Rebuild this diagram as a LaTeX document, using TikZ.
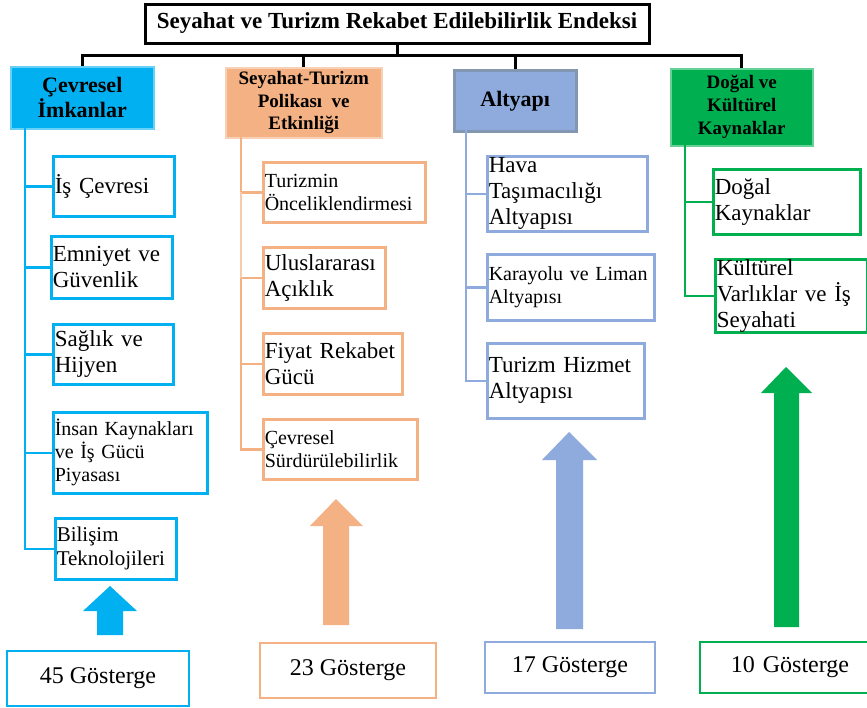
\documentclass[tikz,border=0pt]{standalone}
\usepackage{fontspec}
\setmainfont{Liberation Serif}
\definecolor{ccyan}{HTML}{00B0F0}
\definecolor{corange}{HTML}{F4B183}
\definecolor{corangelight}{HTML}{F8CBAD}
\definecolor{cblue}{HTML}{8FAADC}
\definecolor{cblueedge}{HTML}{8497B0}
\definecolor{cgreen}{HTML}{00B050}
\tikzset{
  leaf/.style={draw, line width=2.5pt, fill=white, anchor=north west, align=left,
    inner xsep=1.5pt, inner ysep=0pt, font=\fontsize{23}{26}\selectfont},
  smallleaf/.style={leaf, font=\fontsize{20}{23}\selectfont},
  header/.style={anchor=north west, align=center, inner sep=0pt, line width=1.5pt},
  count/.style={draw, line width=2.5pt, fill=white, inner sep=0pt, font=\fontsize{24}{28}\selectfont},
  tree/.style={line width=2.5pt},
}
\begin{document}
\begin{tikzpicture}[x=1pt,y=-1pt]
\fill[white] (0,0) rectangle (867,707);
\useasboundingbox (0,0) rectangle (867,707);

% title
\node[draw=black, line width=3pt, minimum width=504pt, minimum height=39pt, inner sep=0pt,
  font=\fontsize{23}{26}\selectfont\bfseries] (title) at (397,23.5)
  {Seyahat ve Turizm Rekabet Edilebilirlik Endeksi};

% headers
\node[header, fill=ccyan, draw=ccyan!60!white, minimum width=143pt, minimum height=62pt,
  font=\fontsize{22}{25}\selectfont\bfseries] (h1) at (10,66) {Çevresel\\İmkanlar};
\node[header, fill=corange, draw=corange!60!white, minimum width=156pt, minimum height=70pt,
  font=\fontsize{19}{22.5}\selectfont\bfseries] (h2) at (225,67) {Seyahat-Turizm\\Polikası\ \ ve\\Etkinliği};
\node[header, fill=cblue, draw=cblueedge, line width=2.5pt, minimum width=122pt, minimum height=61pt,
  font=\fontsize{22}{25}\selectfont\bfseries] (h3) at (453,69) {Altyapı};
\node[header, fill=cgreen, draw=cgreen!60!white, minimum width=142pt, minimum height=77pt,
  font=\fontsize{19}{23}\selectfont\bfseries] (h4) at (670,68) {Doğal ve\\Kültürel\\Kaynaklar};

% top tree
\coordinate (hub) at (397,55);
\draw[tree, line width=3pt] (title.south) -- (hub);
\draw[tree, line width=3pt] (h1.north) -- (h1.north |- hub) -- (h4.north |- hub) -- (h4.north);
\draw[tree, line width=3pt] (h2.north |- hub) -- (h2.north);
\draw[tree, line width=3pt] (h3.north |- hub) -- (h3.north);

% column 1
\node[leaf, draw=ccyan, minimum width=121pt, text width=118pt, minimum height=60pt] (a1) at (52,155) {İş Çevresi};
\node[leaf, draw=ccyan, minimum width=121pt, text width=118pt, minimum height=62pt] (a2) at (50,235) {Emniyet ve\\Güvenlik};
\node[leaf, draw=ccyan, minimum width=120pt, text width=117pt, minimum height=60pt] (a3) at (52,323) {Sağlık ve\\Hijyen};
\node[smallleaf, draw=ccyan, minimum width=154pt, text width=151pt, minimum height=81pt] (a4) at (52,411) {İnsan Kaynakları\\ve İş Gücü\\Piyasası};
\node[leaf, draw=ccyan, minimum width=121pt, text width=118pt, minimum height=61pt,
  font=\fontsize{21}{24}\selectfont] (a5) at (54,517) {Bilişim\\Teknolojileri};
\coordinate (v1) at (25,128);
\foreach \n in {a1,a2,a3,a4,a5} \draw[tree, ccyan] (v1) |- (\n.west);

% column 2
\node[smallleaf, draw=corange, minimum width=162pt, text width=159pt, minimum height=60pt] (b1) at (262,161) {Turizmin\\Önceliklendirmesi};
\node[leaf, draw=corange, minimum width=122pt, text width=119pt, minimum height=61pt] (b2) at (262,246) {Uluslararası\\Açıklık};
\node[leaf, draw=corange, minimum width=139pt, text width=136pt, minimum height=61pt] (b3) at (262,332) {Fiyat Rekabet\\Gücü};
\node[smallleaf, draw=corange, minimum width=154pt, text width=151pt, minimum height=60pt] (b4) at (262,418) {Çevresel\\Sürdürülebilirlik};
\coordinate (v2) at (241,137);
\foreach \n in {b1,b2,b3,b4} \draw[tree, corange] (v2) |- (\n.west);
\draw[tree, corangelight] (v2 |- b1.west) -- (v2 |- b2.west);

% column 3
\node[leaf, draw=cblue, minimum width=160pt, text width=157pt, minimum height=75pt] (c1) at (486,155) {Hava\\Taşımacılığı\\Altyapısı};
\node[smallleaf, draw=cblue, minimum width=167pt, text width=164pt, minimum height=66pt] (c2) at (486,253) {Karayolu ve Liman\\Altyapısı};
\node[leaf, draw=cblue, minimum width=157pt, text width=154pt, minimum height=75pt] (c3) at (486,342) {Turizm Hizmet\\Altyapısı};
\coordinate (v3) at (466,130);
\foreach \n in {c1,c2,c3} \draw[tree, cblue] (v3) |- (\n.west);

% column 4
\node[leaf, draw=cgreen, minimum width=147pt, text width=144pt, minimum height=65pt] (d1) at (712,168) {Doğal\\Kaynaklar};
\node[leaf, draw=cgreen, minimum width=152pt, text width=149pt, minimum height=73pt] (d2) at (714,258) {Kültürel\\Varlıklar ve İş\\Seyahati};
\coordinate (v4) at (685,145);
\foreach \n in {d1,d2} \draw[tree, cgreen] (v4) |- (\n.west);

% block arrows
\fill[ccyan] (97,635) -- (97,611) -- (83,611) -- (110,586) -- (137,611) -- (123,611) -- (123,635) -- cycle;
\fill[corange] (323,625) -- (323,526) -- (310,526) -- (336,499) -- (363,526) -- (349,526) -- (349,625) -- cycle;
\fill[cblue] (556,629) -- (556,460) -- (542,460) -- (569,432) -- (597,460) -- (583,460) -- (583,629) -- cycle;
\fill[cgreen] (774,627) -- (774,393) -- (761,393) -- (786,367) -- (812,393) -- (799,393) -- (799,627) -- cycle;

% counts
\node[count, draw=ccyan, minimum width=182pt, minimum height=55pt] (g1) at (98,678.5) {45 Gösterge};
\node[count, draw=corange, minimum width=176pt, minimum height=55pt] (g2) at (348,670.5) {23 Gösterge};
\node[count, draw=cblue, minimum width=170pt, minimum height=51pt] (g3) at (570,667.5) {17 Gösterge};
\node[count, draw=cgreen, minimum width=180pt, minimum height=51pt, text width=172pt, align=center] (g4) at (790,667.5) {10 Gösterge};
\end{tikzpicture}
\end{document}
